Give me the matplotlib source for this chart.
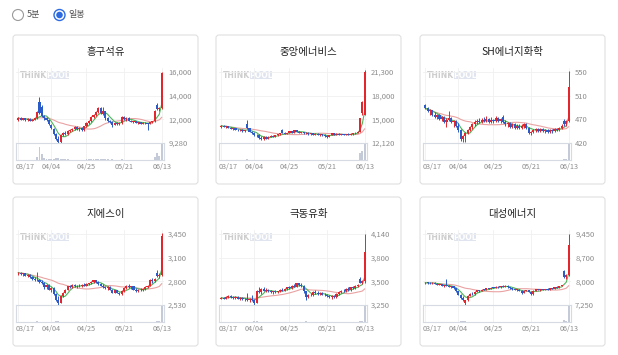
import numpy as np
import pandas as pd
import matplotlib
matplotlib.use('Agg')
import matplotlib.pyplot as plt
from matplotlib.patches import FancyBboxPatch, Circle, Rectangle
import matplotlib.transforms as mtransforms

plt.rcParams['font.family'] = ['Noto Sans CJK KR', 'DejaVu Sans']

# --------------------------
# Data (daily candles, 03/17 ~ 06/13)
# --------------------------
date_labels = ['03/17', '04/04', '04/25', '05/21', '06/13']
date_idx = [0, 14, 29, 45, 61]

titles = ['흥구석유', '중앙에너비스', 'SH에너지화학', '지에스이', '극동유화', '대성에너지']

# y-axis labels shown on the right (top -> bottom)
heungu_labels = ['16,000', '14,000', '12,000', '9,280']
jungang_labels = ['21,300', '18,000', '15,000', '12,120']
sh_labels = ['550', '510', '470', '420']
gse_labels = ['3,450', '3,100', '2,800', '2,530']
kukdong_labels = ['4,140', '3,800', '3,500', '3,250']
daesung_labels = ['9,450', '8,700', '8,000', '7,250']

# (open, high, low, close)
heungu_ohlc = [
    (11500, 11700, 11400, 11650), (11650, 11700, 11450, 11500), (11500, 11650, 11450, 11600),
    (11600, 11650, 11400, 11450), (11450, 11600, 11400, 11550), (11550, 11600, 11350, 11400),
    (11400, 11550, 11350, 11500), (11500, 11700, 11450, 11600), (11600, 12300, 11550, 12200),
    (13200, 13600, 12000, 12100), (12700, 12900, 11700, 11800), (11800, 11900, 11500, 11600),
    (11600, 11700, 11400, 11450), (11450, 11500, 11000, 11100), (11000, 11100, 10600, 10700),
    (10600, 10700, 10000, 10100), (10100, 10200, 9600, 9700), (9700, 9900, 9280, 9400),
    (9400, 10100, 9300, 10000), (10000, 10300, 9900, 10200), (10200, 10400, 10000, 10100),
    (10100, 10500, 10050, 10400), (10400, 10600, 10300, 10500), (10500, 10700, 10400, 10650),
    (10650, 10900, 10550, 10800), (10800, 10900, 10500, 10600), (10600, 10800, 10450, 10700),
    (10700, 10750, 10400, 10500), (10500, 10900, 10450, 10850), (10850, 11300, 10800, 11200),
    (11200, 11500, 11100, 11400), (11400, 11800, 11300, 11700), (11700, 12000, 11600, 11900),
    (11900, 12300, 11800, 12200), (12200, 12700, 12100, 12600), (12600, 12700, 12000, 12100),
    (12000, 12650, 11950, 12300), (12300, 12300, 11500, 11600), (11600, 11700, 11300, 11400),
    (11400, 11500, 11200, 11300), (11300, 11400, 10800, 11000), (11000, 11300, 10950, 11200),
    (11200, 11300, 11000, 11100), (11100, 11250, 11000, 11150), (11150, 11800, 11100, 11700),
    (11700, 11850, 11500, 11550), (11550, 11700, 11400, 11650), (11650, 11700, 11350, 11400),
    (11400, 11500, 11250, 11300), (11300, 11400, 11200, 11350), (11350, 11400, 11150, 11200),
    (11200, 11300, 11100, 11250), (11250, 11300, 11050, 11100), (11100, 11250, 11050, 11200),
    (11200, 11300, 11100, 11150), (11150, 11200, 10500, 11100), (11100, 11300, 11050, 11250),
    (11250, 11400, 11150, 11350), (11350, 12400, 11300, 12300), (12900, 13100, 12400, 12500),
    (12500, 12700, 12300, 12600), (12600, 16000, 12500, 15950),
]
jungang_ohlc = [
    (14200, 14450, 14100, 14350), (14350, 14400, 14150, 14200), (14200, 14350, 14100, 14300),
    (14300, 14350, 14000, 14050), (14050, 14150, 13900, 13950), (13950, 14100, 13850, 14050),
    (14050, 14100, 13800, 13850), (13850, 13950, 13700, 13750), (13750, 13900, 13650, 13850),
    (13850, 13900, 13600, 13650), (13650, 13800, 13550, 13750), (14600, 15100, 13900, 14000),
    (14000, 14100, 13500, 13600), (13600, 13700, 13300, 13400), (13400, 13500, 13000, 13100),
    (13100, 13300, 12900, 13200), (13200, 13250, 12700, 12800), (12800, 13000, 12500, 12600),
    (12600, 13000, 12550, 12950), (12950, 13000, 12600, 12700), (12700, 13000, 12650, 12950),
    (12950, 13100, 12850, 13050), (13050, 13100, 12900, 12950), (12950, 13150, 12900, 13100),
    (13100, 13300, 13050, 13250), (13250, 13400, 13150, 13350), (13800, 13950, 13350, 13450),
    (13450, 13550, 13250, 13300), (13300, 13450, 13250, 13400), (13400, 13700, 13350, 13650),
    (13650, 13700, 13400, 13450), (13450, 13850, 13400, 13800), (13800, 13850, 13550, 13600),
    (13600, 13700, 13400, 13450), (13450, 13600, 13350, 13550), (13550, 13600, 13300, 13350),
    (13350, 13500, 13250, 13450), (13450, 13500, 13200, 13250), (13250, 13400, 13150, 13350),
    (13350, 13400, 13150, 13200), (13200, 13350, 13100, 13300), (13300, 13350, 13100, 13150),
    (13150, 13300, 13050, 13250), (13250, 13300, 13050, 13100), (13100, 13250, 12950, 13000),
    (13000, 13100, 12800, 12900), (12900, 13200, 12850, 13150), (13150, 13400, 13100, 13350),
    (13350, 13400, 13150, 13200), (13200, 13350, 13150, 13300), (13300, 13350, 13100, 13150),
    (13150, 13300, 13100, 13250), (13250, 13300, 13100, 13150), (13150, 13300, 13100, 13250),
    (13250, 13350, 13150, 13200), (13200, 13350, 13150, 13300), (13300, 13400, 13200, 13350),
    (13350, 13500, 13300, 13450), (13450, 13650, 13400, 13600), (13600, 15400, 13550, 15300),
    (16000, 17500, 15700, 17400), (15800, 21500, 15700, 21300),
]
sh_ohlc = [
    (490, 492, 482, 484), (484, 486, 476, 478), (478, 482, 472, 480), (480, 481, 470, 472),
    (472, 476, 466, 468), (468, 474, 464, 472), (472, 473, 462, 464), (464, 470, 460, 468),
    (468, 470, 456, 458), (458, 466, 450, 462), (462, 478, 460, 466), (466, 468, 456, 458),
    (458, 462, 450, 460), (460, 462, 450, 452), (452, 456, 440, 444), (444, 446, 424, 428),
    (428, 434, 421, 432), (432, 440, 422, 438), (438, 446, 436, 444), (444, 452, 442, 450),
    (450, 456, 446, 454), (454, 462, 452, 458), (458, 464, 454, 460), (460, 466, 456, 458),
    (458, 466, 456, 462), (462, 468, 458, 460), (460, 470, 458, 464), (464, 466, 456, 458),
    (458, 468, 456, 462), (462, 464, 456, 460), (460, 470, 458, 466), (466, 468, 458, 460),
    (460, 466, 456, 464), (468, 472, 456, 458), (458, 462, 452, 454), (454, 458, 450, 456),
    (456, 458, 448, 450), (450, 456, 448, 454), (454, 456, 446, 448), (448, 454, 446, 452),
    (452, 454, 446, 448), (448, 454, 446, 452), (452, 456, 448, 454), (454, 456, 446, 448),
    (448, 450, 436, 438), (438, 442, 434, 440), (440, 446, 438, 444), (444, 448, 440, 446),
    (446, 448, 440, 442), (442, 448, 440, 446), (446, 448, 440, 442), (442, 446, 438, 444),
    (444, 446, 438, 440), (440, 446, 438, 444), (444, 446, 438, 442), (442, 448, 440, 446),
    (446, 448, 442, 444), (444, 450, 442, 448), (448, 454, 446, 452), (460, 464, 452, 454),
    (454, 462, 452, 460), (460, 552, 458, 522),
]
gse_ohlc = [
    (2940, 2960, 2920, 2950), (2950, 2960, 2920, 2930), (2930, 2950, 2910, 2940), (2940, 2950, 2900, 2910),
    (2910, 2930, 2890, 2920), (2920, 2930, 2880, 2890), (2890, 2910, 2860, 2870), (2870, 2890, 2840, 2850),
    (2850, 2960, 2840, 2860), (2860, 2870, 2820, 2830), (2830, 2850, 2800, 2810), (2810, 2830, 2740, 2760),
    (2760, 2800, 2740, 2790), (2790, 2800, 2720, 2730), (2730, 2760, 2700, 2750), (2750, 2760, 2660, 2670),
    (2670, 2690, 2580, 2600), (2600, 2650, 2530, 2560), (2560, 2660, 2550, 2650), (2650, 2700, 2640, 2690),
    (2690, 2740, 2680, 2730), (2730, 2780, 2720, 2770), (2770, 2790, 2750, 2760), (2760, 2800, 2750, 2790),
    (2790, 2800, 2760, 2770), (2770, 2790, 2750, 2780), (2780, 2800, 2760, 2770), (2770, 2800, 2760, 2790),
    (2790, 2810, 2770, 2780), (2780, 2810, 2770, 2800), (2800, 2820, 2790, 2810), (2810, 2840, 2800, 2830),
    (2830, 2860, 2820, 2850), (2850, 2860, 2820, 2830), (2830, 2840, 2790, 2800), (2800, 2810, 2770, 2780),
    (2780, 2800, 2750, 2760), (2760, 2780, 2740, 2750), (2750, 2770, 2730, 2760), (2760, 2770, 2720, 2730),
    (2730, 2740, 2680, 2690), (2690, 2730, 2680, 2720), (2720, 2730, 2680, 2690), (2690, 2700, 2660, 2670),
    (2670, 2720, 2660, 2710), (2710, 2760, 2700, 2750), (2750, 2790, 2740, 2780), (2780, 2800, 2750, 2760),
    (2760, 2780, 2740, 2770), (2770, 2780, 2720, 2730), (2730, 2750, 2700, 2710), (2710, 2740, 2700, 2730),
    (2730, 2750, 2710, 2720), (2720, 2750, 2710, 2740), (2740, 2770, 2730, 2760), (2760, 2790, 2750, 2780),
    (2780, 2870, 2770, 2860), (2860, 2880, 2820, 2840), (2840, 2880, 2830, 2870), (2940, 2980, 2890, 2900),
    (2900, 2940, 2880, 2920), (2920, 3460, 2900, 3420),
]
kukdong_ohlc = [
    (3330, 3350, 3320, 3340), (3340, 3350, 3320, 3330), (3330, 3360, 3320, 3350), (3350, 3370, 3340, 3360),
    (3360, 3370, 3340, 3350), (3350, 3360, 3330, 3340), (3340, 3360, 3330, 3350), (3350, 3360, 3320, 3330),
    (3330, 3350, 3310, 3340), (3340, 3350, 3310, 3320), (3320, 3340, 3300, 3330), (3330, 3400, 3300, 3310),
    (3310, 3340, 3290, 3330), (3330, 3380, 3300, 3310), (3310, 3320, 3250, 3270), (3280, 3440, 3270, 3420),
    (3420, 3470, 3400, 3410), (3410, 3460, 3390, 3450), (3450, 3480, 3420, 3430), (3430, 3460, 3410, 3440),
    (3440, 3450, 3410, 3420), (3420, 3440, 3400, 3410), (3410, 3430, 3390, 3420), (3420, 3440, 3400, 3410),
    (3410, 3430, 3400, 3420), (3420, 3450, 3410, 3440), (3440, 3460, 3420, 3430), (3430, 3460, 3420, 3450),
    (3450, 3480, 3440, 3470), (3470, 3490, 3450, 3460), (3460, 3500, 3450, 3490), (3490, 3510, 3470, 3480),
    (3480, 3530, 3470, 3520), (3520, 3530, 3490, 3500), (3500, 3520, 3480, 3490), (3490, 3500, 3400, 3420),
    (3420, 3430, 3310, 3350), (3350, 3390, 3340, 3380), (3380, 3400, 3360, 3370), (3370, 3420, 3360, 3410),
    (3410, 3440, 3390, 3400), (3400, 3420, 3380, 3390), (3390, 3410, 3370, 3400), (3400, 3410, 3370, 3380),
    (3380, 3400, 3360, 3370), (3370, 3390, 3350, 3360), (3360, 3380, 3340, 3350), (3350, 3370, 3330, 3360),
    (3360, 3380, 3340, 3350), (3350, 3400, 3340, 3390), (3390, 3420, 3380, 3410), (3410, 3440, 3400, 3430),
    (3430, 3450, 3410, 3420), (3420, 3460, 3410, 3450), (3450, 3470, 3430, 3440), (3440, 3480, 3430, 3470),
    (3470, 3490, 3450, 3460), (3460, 3500, 3450, 3490), (3490, 3510, 3470, 3500), (3580, 3600, 3520, 3530),
    (3530, 3560, 3510, 3550), (3550, 4140, 3530, 3920),
]
daesung_ohlc = [
    (7920, 7960, 7900, 7940), (7940, 7960, 7910, 7930), (7930, 7950, 7900, 7920), (7920, 7950, 7900, 7940),
    (7940, 7950, 7890, 7900), (7900, 7920, 7870, 7880), (7880, 7910, 7860, 7890), (7890, 7900, 7840, 7850),
    (7850, 7880, 7820, 7860), (7860, 8050, 7840, 7850), (7850, 7870, 7800, 7810), (7810, 7840, 7780, 7830),
    (7830, 7840, 7760, 7770), (7770, 7790, 7650, 7670), (7670, 7690, 7550, 7560), (7560, 7600, 7450, 7480),
    (7480, 7520, 7380, 7400), (7300, 7420, 7250, 7400), (7400, 7560, 7380, 7540), (7540, 7620, 7520, 7600),
    (7600, 7650, 7560, 7580), (7580, 7680, 7570, 7660), (7660, 7720, 7640, 7700), (7700, 7730, 7660, 7680),
    (7680, 7740, 7670, 7730), (7730, 7760, 7700, 7720), (7720, 7780, 7710, 7770), (7770, 7790, 7740, 7750),
    (7750, 7800, 7740, 7790), (7790, 7820, 7770, 7780), (7780, 7830, 7770, 7820), (7820, 7840, 7790, 7800),
    (7800, 7850, 7790, 7840), (7840, 7860, 7810, 7820), (7820, 7860, 7800, 7850), (7850, 7870, 7790, 7800),
    (7800, 7820, 7760, 7770), (7770, 7790, 7730, 7740), (7740, 7760, 7700, 7710), (7710, 7740, 7680, 7730),
    (7730, 7740, 7670, 7680), (7680, 7700, 7600, 7620), (7620, 7700, 7610, 7690), (7690, 7720, 7670, 7700),
    (7700, 7720, 7640, 7650), (7650, 7670, 7560, 7580), (7580, 7700, 7570, 7690), (7690, 7760, 7680, 7740),
    (7740, 7750, 7700, 7710), (7710, 7740, 7690, 7730), (7730, 7760, 7710, 7720), (7720, 7760, 7710, 7750),
    (7750, 7770, 7720, 7730), (7730, 7780, 7720, 7770), (7770, 7790, 7740, 7760), (7760, 7810, 7750, 7800),
    (7800, 7830, 7780, 7790), (7790, 7850, 7780, 7840), (7840, 7880, 7830, 7870), (8300, 8350, 8080, 8120),
    (8120, 8200, 8050, 8180), (8180, 9460, 8150, 9120),
]

# volume (relative)
heungu_vol = [3, 2, 2, 2, 2, 2, 2, 3, 20, 80, 35, 12, 6, 5, 6, 8, 10, 12, 8, 5, 4, 4, 3, 3, 3, 3, 3, 3, 3, 4,
              4, 5, 5, 6, 9, 8, 6, 6, 4, 3, 4, 3, 3, 3, 4, 3, 3, 3, 2, 2, 2, 2, 2, 2, 2, 3, 2, 3, 20, 45, 25, 100]
jungang_vol = [2, 2, 2, 2, 2, 2, 2, 2, 2, 2, 2, 6, 3, 2, 3, 2, 3, 3, 2, 2, 2, 2, 2, 2, 2, 2, 3, 2, 2, 2,
               2, 2, 2, 2, 2, 2, 2, 2, 2, 2, 2, 2, 2, 2, 2, 2, 2, 2, 2, 2, 2, 2, 2, 2, 2, 2, 2, 2, 3, 40, 55, 100]
sh_vol = [3, 2, 2, 2, 2, 2, 2, 2, 2, 2, 3, 2, 2, 2, 3, 4, 3, 3, 2, 2, 2, 2, 2, 2, 2, 2, 2, 2, 2, 2,
          2, 2, 2, 2, 2, 2, 2, 2, 2, 2, 2, 2, 2, 2, 3, 2, 2, 2, 2, 2, 2, 2, 2, 2, 2, 2, 2, 2, 2, 6, 5, 100]
gse_vol = [3, 2, 2, 2, 2, 2, 2, 2, 4, 2, 2, 3, 2, 2, 2, 3, 4, 5, 3, 2, 2, 2, 2, 2, 2, 2, 2, 2, 2, 2,
           2, 2, 2, 2, 2, 2, 2, 2, 2, 2, 2, 2, 2, 2, 2, 2, 2, 2, 2, 2, 2, 2, 2, 2, 2, 2, 3, 2, 2, 8, 5, 100]
kukdong_vol = [2, 2, 2, 2, 2, 2, 2, 2, 2, 2, 2, 3, 2, 2, 4, 5, 3, 2, 2, 2, 2, 2, 2, 2, 2, 2, 2, 2, 2, 2,
               2, 2, 2, 2, 2, 3, 4, 2, 2, 2, 2, 2, 2, 2, 2, 2, 2, 2, 2, 2, 2, 2, 2, 2, 2, 2, 2, 2, 2, 6, 4, 100]
daesung_vol = [2, 2, 2, 2, 2, 2, 2, 2, 2, 3, 2, 2, 2, 2, 3, 4, 4, 5, 3, 2, 2, 2, 2, 2, 2, 2, 2, 2, 2, 2,
               2, 2, 2, 2, 2, 2, 2, 2, 2, 2, 2, 2, 2, 2, 2, 2, 2, 2, 2, 2, 2, 2, 2, 2, 2, 2, 2, 2, 2, 15, 8, 100]

RED = '#e3262b'
BLUE = '#2a5bc8'
MA_LONG = '#eaa2a2'
MA_SHORT = '#4fb55a'

W, H = 618, 355
fig = plt.figure(figsize=(W / 100, H / 100), dpi=100)
bg = fig.add_axes([0, 0, 1, 1])
bg.set_xlim(0, W)
bg.set_ylim(H, 0)
bg.axis('off')


def px_axes(x0, y0, x1, y1):
    return fig.add_axes([x0 / W, 1 - y1 / H, (x1 - x0) / W, (y1 - y0) / H])


def draw_card(cx, cy, title, ohlc, vol, labels):
    bg.add_patch(FancyBboxPatch((cx, cy), 185, 149, boxstyle='round,pad=0,rounding_size=3',
                                fc='white', ec='#e0e0e0', lw=0.8))
    bg.text(cx + 92.5, cy + 17, title, ha='center', va='center', fontsize=7.5, color='#222222')

    d = pd.DataFrame(ohlc, columns=['o', 'h', 'l', 'c'])
    x = np.arange(len(d))
    vals = [float(s.replace(',', '')) for s in labels]
    hi, lo = vals[0], vals[-1]
    ticks = np.linspace(lo, hi, 4)

    ax = px_axes(cx + 3, cy + 33, cx + 151, cy + 108)
    ax.patch.set_alpha(0)
    for s in ax.spines.values():
        s.set_visible(False)
    ax.set_xlim(-1, len(d))
    ax.set_ylim(lo, hi + (hi - lo) * 4 / 71)
    ax.yaxis.tick_right()
    ax.set_yticks(ticks, labels[::-1])
    ax.set_xticks(date_idx)
    ax.tick_params(axis='y', length=0, pad=3, labelsize=5.5, labelcolor='#8c8c8c')
    ax.tick_params(axis='x', length=0, labelbottom=False)
    ax.grid(True, color='#f0f0f0', lw=0.6)
    ax.set_axisbelow(True)

    up = (d.c >= d.o).values
    colors = np.where(up, RED, BLUE)
    ax.vlines(x, d.l, d.h, colors=colors, lw=0.7, zorder=3)
    body = (d.c - d.o).abs().clip(lower=(hi - lo) * 0.01)
    ax.bar(x, body, bottom=np.minimum(d.o, d.c), width=0.9, color=colors, zorder=3)

    ma_long = d.c.rolling(20, min_periods=1).mean()
    ma_short = d.c.rolling(5, min_periods=1).mean()
    ax.plot(x, ma_long, color=MA_LONG, lw=0.8, zorder=2)
    ax.plot(x, ma_short, color=MA_SHORT, lw=0.8, zorder=2)

    # watermark
    bg.text(cx + 7, cy + 40, 'THINK', fontsize=5.5, weight='bold', color='#cdcdcd',
            va='center', ha='left', family='DejaVu Sans')
    bg.add_patch(Rectangle((cx + 34, cy + 36), 22, 8, fc='#dfe4ee', ec='none'))
    bg.text(cx + 45, cy + 40, 'POOL', fontsize=5.5, weight='bold', color='white',
            va='center', ha='center', family='DejaVu Sans')

    vax = px_axes(cx + 3, cy + 108, cx + 151, cy + 125)
    vax.set_xlim(-1, len(d))
    vax.set_ylim(0, max(vol) * 1.02)
    for s in vax.spines.values():
        s.set_color('#d6dae3')
        s.set_linewidth(0.8)
    vax.bar(x, vol, width=0.8, color='#c4cad8')
    vax.set_yticks([])
    vax.set_xticks(date_idx)
    vax.tick_params(axis='x', length=0, labelbottom=False)
    vax.grid(True, axis='x', color='#f0f0f0', lw=0.6)
    vax.set_axisbelow(True)

    trans = mtransforms.blended_transform_factory(vax.transData, bg.transData)
    for i, (xi, lab) in enumerate(zip(date_idx, date_labels)):
        if i == 0:
            bg.text(cx + 3, cy + 132, lab, ha='left', va='center', fontsize=5.2, color='#8c8c8c')
        else:
            vax.text(xi, cy + 132, lab, ha='center', va='center', fontsize=5.2, color='#8c8c8c',
                     transform=trans)


# radio buttons
bg.add_patch(Circle((18, 15), 5.5, fc='white', ec='#9a9a9a', lw=0.8))
bg.text(27, 15, '5분', ha='left', va='center', fontsize=6.5, color='#555555')
bg.add_patch(Circle((59.5, 15), 5.5, fc='white', ec='#2c6be0', lw=1.0))
bg.add_patch(Circle((59.5, 15), 3.3, fc='#2c6be0', ec='none'))
bg.text(68, 15, '일봉', ha='left', va='center', fontsize=6.5, color='#555555')

col_x = [13, 216, 420]
row_y = [35, 197]
series = [
    (heungu_ohlc, heungu_vol, heungu_labels),
    (jungang_ohlc, jungang_vol, jungang_labels),
    (sh_ohlc, sh_vol, sh_labels),
    (gse_ohlc, gse_vol, gse_labels),
    (kukdong_ohlc, kukdong_vol, kukdong_labels),
    (daesung_ohlc, daesung_vol, daesung_labels),
]
for k, (ohlc, vol, labels) in enumerate(series):
    draw_card(col_x[k % 3], row_y[k // 3], titles[k], ohlc, vol, labels)

fig.savefig('out.png', dpi=100)
